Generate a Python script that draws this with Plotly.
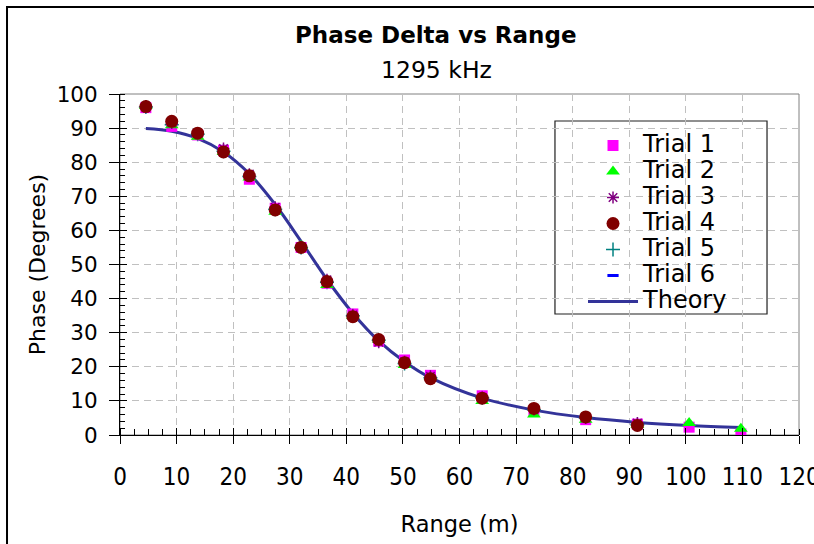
import plotly.graph_objects as go

# ---- data ----
range_m = [4.57, 9.14, 13.72, 18.29, 22.86, 27.43, 32.0, 36.58, 41.15, 45.72,
           50.29, 54.86, 64.01, 73.15, 82.30, 91.44, 100.58, 109.73]

trial1 = [96.0, 90.5, 88.0, 83.5, 75.0, 66.5, 55.0, 44.5, 35.5, 27.5,
          22.0, 17.5, 11.5, 7.0, 4.5, 3.2, 2.3, 0.3]
trial2 = [96.5, 90.8, 87.5, 83.0, 75.5, 65.5, 55.5, 44.0, 35.0, 28.0,
          20.5, 17.0, 10.0, 6.0, 4.5, 3.0, 3.5, 1.8]
trial3 = [96.5, 91.5, 88.5, 84.0, 76.5, 66.8, 55.2, 45.5, 35.2, 27.2,
          21.5, 17.2, 11.0, 7.5, 5.0, 3.5]
trial4 = [96.3, 92.0, 88.5, 83.0, 76.0, 66.0, 55.0, 45.0, 34.7, 28.0,
          21.2, 16.5, 10.8, 7.8, 5.3, 2.8]
trial5 = [96.2, 91.0, 88.2, 83.2, 75.8, 66.2, 55.0, 44.8, 35.0, 27.8,
          21.0, 16.8, 10.9, 7.4, 5.0, 3.0]
trial6 = [96.2, 91.2, 88.0, 83.3, 75.6, 66.0, 55.1, 44.9, 35.1, 27.7,
          21.2, 16.9, 10.8, 7.5, 5.1, 3.1]

theory = [89.9, 89.1, 87.0, 83.0, 76.6, 67.6, 56.8, 45.6, 35.7, 27.6,
          21.5, 16.8, 10.8, 7.3, 5.1, 3.7, 2.8, 2.2]

x_ticks = [0, 10, 20, 30, 40, 50, 60, 70, 80, 90, 100, 110, 120]
y_ticks = [0, 10, 20, 30, 40, 50, 60, 70, 80, 90, 100]

title_text = "Phase Delta vs Range"
subtitle_text = "1295 kHz"

FONT = "DejaVu Sans, sans-serif"
NARROW = "Liberation Sans Narrow, DejaVu Sans Condensed, sans-serif"


def leg(name):
    return "<span style='font-size:24px'>" + name + "</span>"


fig = go.Figure()

fig.add_trace(go.Scatter(x=range_m, y=theory, mode="lines", name=leg("Theory"),
                         line=dict(color="#333399", width=3, shape="spline"),
                         legendrank=7))

trials = [
    ("Trial 5", trial5, dict(symbol="cross-thin-open", size=10, color="#008080",
                              line=dict(color="#008080", width=1.5)), 5),
    ("Trial 6", trial6, dict(symbol="line-ew-open", size=8, color="#0000FF",
                              line=dict(color="#0000FF", width=3)), 6),
    ("Trial 1", trial1, dict(symbol="square", size=11, color="#FF00FF"), 1),
    ("Trial 2", trial2, dict(symbol="triangle-up", size=12, color="#00FF00"), 2),
    ("Trial 3", trial3, dict(symbol="asterisk-open", size=10, color="#800080",
                              line=dict(color="#800080", width=1.5)), 3),
    ("Trial 4", trial4, dict(symbol="circle", size=13, color="#800000"), 4),
]
for name, vals, mk, rank in trials:
    fig.add_trace(go.Scatter(x=range_m[:len(vals)], y=vals, mode="markers",
                             name=leg(name), marker=mk, legendrank=rank))

# helper trace for crossing (inside) part of major ticks
fig.add_trace(go.Scatter(x=[0], y=[0], xaxis="x2", yaxis="y2", mode="markers",
                         marker=dict(opacity=0), showlegend=False, hoverinfo="skip"))

fig.update_layout(
    width=814, height=544,
    margin=dict(l=120, r=15, t=94, b=109, autoexpand=False),
    paper_bgcolor="white", plot_bgcolor="white",
    font=dict(family=FONT, color="black"),
    showlegend=True,
    legend=dict(x=0.6819, y=0.9018, xanchor="left", yanchor="top",
                bgcolor="rgba(0,0,0,0)", borderwidth=0,
                font=dict(size=17.7, family=FONT), itemwidth=50,
                traceorder="normal"),
    xaxis=dict(range=[0, 120], tickvals=x_ticks, ticks="outside", ticklen=8,
               tickcolor="black", tickwidth=1, showline=True, linecolor="black",
               linewidth=1, showgrid=True, gridcolor="#c0c0c0", griddash="7px,5px",
               zeroline=False, tickfont=dict(size=24, family=NARROW),
               ticklabeloverflow="allow", automargin=False,
               minor=dict(dtick=2.5, ticks="inside", ticklen=6, tickcolor="black",
                          showgrid=False),
               ticklabelstandoff=12,
               title=dict(text="Range (m)", font=dict(size=22.5), standoff=26)),
    yaxis=dict(range=[0, 100], tickvals=y_ticks, ticks="outside", ticklen=10,
               tickcolor="black", tickwidth=1, showline=True, linecolor="black",
               linewidth=1, showgrid=True, gridcolor="#c0c0c0", griddash="7px,5px",
               zeroline=False, tickfont=dict(size=21.5), automargin=False,
               minor=dict(dtick=2, ticks="inside", ticklen=5, tickcolor="black",
                          showgrid=False),
               ticklabelstandoff=7,
               title=dict(text="Phase (Degrees)", font=dict(size=22), standoff=4)),
    xaxis2=dict(range=[0, 120], overlaying="x", anchor="y2", side="bottom",
                tickvals=x_ticks, ticks="inside", ticklen=7, tickcolor="black",
                showticklabels=False, showgrid=False, showline=False,
                zeroline=False, automargin=False),
    yaxis2=dict(range=[0, 100], overlaying="y", anchor="x2", side="left",
                tickvals=y_ticks, ticks="inside", ticklen=7, tickcolor="black",
                showticklabels=False, showgrid=False, showline=False,
                zeroline=False, automargin=False),
    shapes=[
        dict(type="rect", xref="paper", yref="paper", x0=0, x1=1, y0=0, y1=1,
             line=dict(color="#808080", width=1), layer="below"),
        dict(type="rect", xref="paper", yref="paper", x0=-0.1664, x1=1.2,
             y0=-0.4, y1=1.255, line=dict(color="black", width=2), layer="below"),
        # legend box
        dict(type="rect", xref="paper", yref="paper", x0=0.6406, x1=0.9529,
             y0=0.3548, y1=0.9208, line=dict(color="#202020", width=1.2),
             fillcolor="white", layer="between"),
    ],
    annotations=[
        dict(text="<b>" + title_text + "</b>", xref="paper", yref="paper",
             x=0.4654, y=1.173, xanchor="center", yanchor="middle",
             showarrow=False, font=dict(size=23, family=FONT)),
        dict(text=subtitle_text, xref="paper", yref="paper",
             x=0.4654, y=1.070, xanchor="center", yanchor="middle",
             showarrow=False, font=dict(size=23.5, family=FONT)),
    ],
)

fig.write_html("out.html",
               config={"displayModeBar": False},
               post_script="document.body.style.margin='0px';"
                           "document.body.style.overflow='hidden';")
